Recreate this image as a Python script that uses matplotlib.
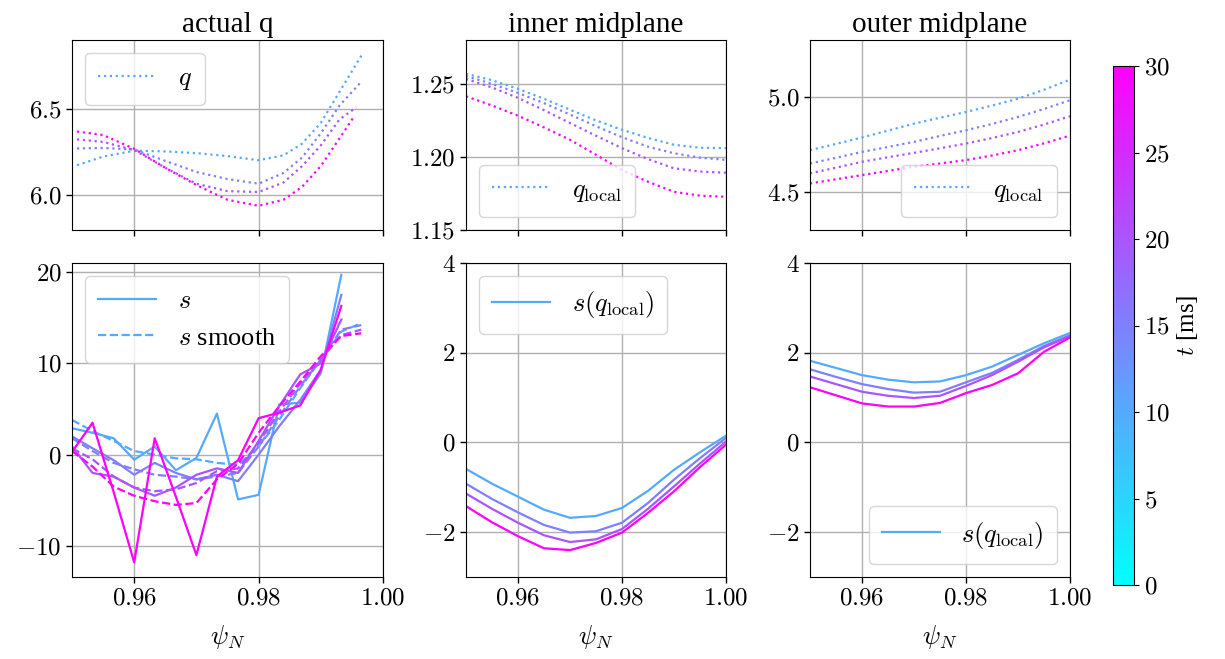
import numpy as np
import matplotlib
matplotlib.use("Agg")
import matplotlib.pyplot as plt
from matplotlib.ticker import StrMethodFormatter

plt.rcParams['font.family'] = 'serif'
plt.rcParams['font.serif'] = ['Liberation Serif', 'DejaVu Serif']
plt.rcParams['mathtext.fontset'] = 'cm'
plt.rcParams['font.size'] = 17

# times of the four profiles [ms]
times = [10, 15, 20, 30]

# actual q: each profile on its own psi grid
psi_q = [
    [0.9508, 0.955, 0.96, 0.965, 0.97, 0.975, 0.98, 0.984, 0.987, 0.990, 0.993, 0.9967],
    [0.9508, 0.955, 0.96, 0.965, 0.97, 0.975, 0.98, 0.984, 0.987, 0.990, 0.993, 0.9963],
    [0.9508, 0.955, 0.96, 0.965, 0.97, 0.975, 0.98, 0.984, 0.987, 0.990, 0.993, 0.9957],
    [0.9508, 0.955, 0.96, 0.965, 0.97, 0.975, 0.98, 0.984, 0.987, 0.990, 0.993, 0.9954],
]
q_actual = [
    [6.175, 6.225, 6.259, 6.255, 6.245, 6.228, 6.204, 6.232, 6.30, 6.42, 6.60, 6.82],
    [6.272, 6.275, 6.266, 6.200, 6.136, 6.095, 6.068, 6.130, 6.22, 6.36, 6.52, 6.65],
    [6.325, 6.310, 6.263, 6.160, 6.068, 6.025, 6.020, 6.075, 6.17, 6.29, 6.44, 6.51],
    [6.370, 6.350, 6.270, 6.160, 6.060, 5.975, 5.940, 5.975, 6.05, 6.17, 6.33, 6.46],
]

# magnetic shear from the discrete q
psi_s = [0.95, 0.9533, 0.9567, 0.96, 0.9633, 0.9667, 0.97, 0.9733, 0.9767,
         0.98, 0.9833, 0.9867, 0.99, 0.9933]
s_raw = [
    [2.9, 2.4, 1.8, -0.55, 0.9, -1.7, -0.36, 4.5, -4.9, -4.4, 5.5, 5.7, 8.9, 19.7],
    [2.0, 0.7, -0.6, -2.2, -0.9, -2.0, -2.7, -2.2, -2.9, 0.0, 3.1, 6.0, 9.3, 17.5],
    [0.9, -2.0, -2.4, -3.6, -4.5, -3.6, -2.2, -1.5, -2.0, 1.5, 5.3, 8.8, 10.0, 14.8],
    [0.3, 3.5, -4.1, -11.8, 1.8, -4.6, -11.0, -2.4, -0.6, 4.0, 4.6, 5.4, 9.3, 16.3],
]
psi_smooth = [0.95, 0.9533, 0.9567, 0.96, 0.9633, 0.9667, 0.97, 0.9733, 0.9767,
              0.98, 0.9833, 0.9867, 0.99, 0.9933, 0.9965]
s_smooth = [
    [3.8, 2.6, 1.5, 0.4, 0.0, -0.4, -0.5, -0.9, -1.1, 0.9, 3.8, 7.3, 10.4, 13.5, 14.4],
    [1.8, 0.4, -0.9, -1.6, -2.2, -2.4, -2.7, -2.4, -2.0, 0.9, 4.2, 7.5, 10.4, 13.7, 14.2],
    [0.7, -0.5, -2.4, -3.6, -4.0, -3.8, -3.1, -1.8, -1.5, 1.3, 4.7, 7.8, 10.4, 13.1, 13.7],
    [0.4, -1.3, -3.5, -4.5, -5.1, -5.5, -5.3, -2.7, -1.0, 2.4, 5.3, 8.0, 10.8, 13.0, 13.3],
]

# local q and shear at the midplanes
psi_loc = [0.95, 0.955, 0.96, 0.965, 0.97, 0.975, 0.98, 0.985, 0.99, 0.995, 1.0]
q_inner = [
    [1.2569, 1.2525, 1.2466, 1.2398, 1.2323, 1.2250, 1.2186, 1.2130, 1.2083, 1.2063, 1.2060],
    [1.2553, 1.2500, 1.2438, 1.2368, 1.2290, 1.2210, 1.2135, 1.2070, 1.2025, 1.1995, 1.1980],
    [1.2534, 1.2475, 1.2404, 1.2320, 1.2232, 1.2145, 1.2060, 1.1985, 1.1922, 1.1900, 1.1892],
    [1.2415, 1.2352, 1.2282, 1.2202, 1.2117, 1.2015, 1.1910, 1.1830, 1.1761, 1.1735, 1.1727],
]
s_inner = [
    [-0.59, -0.92, -1.21, -1.50, -1.68, -1.64, -1.46, -1.08, -0.61, -0.22, 0.15],
    [-0.92, -1.26, -1.56, -1.84, -2.01, -1.98, -1.79, -1.35, -0.83, -0.35, 0.10],
    [-1.14, -1.48, -1.79, -2.07, -2.22, -2.16, -1.93, -1.48, -0.98, -0.47, 0.02],
    [-1.42, -1.78, -2.09, -2.36, -2.40, -2.24, -2.01, -1.57, -1.09, -0.55, -0.05],
]
q_outer = [
    [4.720, 4.753, 4.787, 4.823, 4.860, 4.891, 4.921, 4.955, 4.991, 5.038, 5.091],
    [4.650, 4.680, 4.711, 4.737, 4.764, 4.795, 4.825, 4.858, 4.895, 4.937, 4.983],
    [4.598, 4.628, 4.659, 4.683, 4.706, 4.730, 4.755, 4.784, 4.816, 4.855, 4.899],
    [4.545, 4.567, 4.589, 4.611, 4.633, 4.650, 4.668, 4.692, 4.720, 4.756, 4.797],
]
s_outer = [
    [1.82, 1.66, 1.50, 1.40, 1.34, 1.36, 1.50, 1.69, 1.95, 2.21, 2.44],
    [1.63, 1.46, 1.30, 1.19, 1.11, 1.13, 1.34, 1.55, 1.84, 2.15, 2.39],
    [1.47, 1.30, 1.13, 1.04, 0.99, 1.04, 1.26, 1.50, 1.80, 2.12, 2.37],
    [1.23, 1.05, 0.87, 0.80, 0.80, 0.88, 1.10, 1.28, 1.54, 2.02, 2.34],
]

cmap = plt.get_cmap('cool')
norm = plt.Normalize(0, 30)

fig = plt.figure(figsize=(12.25, 6.59), dpi=100)
W, H = 1225, 659
def box(x0, x1, y0, y1):
    return [x0 / W, 1 - y1 / H, (x1 - x0) / W, (y1 - y0) / H]

cols = [(72, 383), (466, 726), (810, 1070)]
ax_top = [fig.add_axes(box(c[0], c[1], 40, 230)) for c in cols]
ax_bot = [fig.add_axes(box(c[0], c[1], 263, 577)) for c in cols]

lw = 1.6
for i, t in enumerate(times):
    c = cmap(norm(t))
    first = i == 0
    ax_top[0].plot(psi_q[i], q_actual[i], ':', color=c, lw=lw, label='$q$' if first else None)
    ax_bot[0].plot(psi_s, s_raw[i], '-', color=c, lw=lw, label='$s$' if first else None)
    ax_bot[0].plot(psi_smooth, s_smooth[i], '--', color=c, lw=lw,
                   label='$s$ smooth' if first else None)
    ax_top[1].plot(psi_loc, q_inner[i], ':', color=c, lw=lw,
                   label=r'$q_\mathrm{local}$' if first else None)
    ax_bot[1].plot(psi_loc, s_inner[i], '-', color=c, lw=lw,
                   label=r'$s(q_\mathrm{local})$' if first else None)
    ax_top[2].plot(psi_loc, q_outer[i], ':', color=c, lw=lw,
                   label=r'$q_\mathrm{local}$' if first else None)
    ax_bot[2].plot(psi_loc, s_outer[i], '-', color=c, lw=lw,
                   label=r'$s(q_\mathrm{local})$' if first else None)

titles = ['actual q', 'inner midplane', 'outer midplane']
for j in range(3):
    for ax in (ax_top[j], ax_bot[j]):
        ax.set_xlim(0.95, 1.0)
        ax.set_xticks([0.96, 0.98, 1.00])
        ax.grid(True, color='#b0b0b0', lw=1.0)
        ax.tick_params(direction='out', length=4, width=1, labelsize=18)
    ax_top[j].set_title(titles[j], fontsize=21)
    ax_top[j].set_xticklabels([])
    ax_bot[j].xaxis.set_major_formatter(StrMethodFormatter('${x:.2f}$'))
    ax_bot[j].set_xlabel(r'$\psi_N$', fontsize=19, labelpad=10)

ax_top[0].set_ylim(5.8, 6.9)
ax_top[0].set_yticks([6.0, 6.5])
ax_top[0].yaxis.set_major_formatter(StrMethodFormatter('${x:.1f}$'))
ax_bot[0].set_ylim(-13.4, 21)
ax_bot[0].set_yticks([-10, 0, 10, 20])
ax_bot[0].yaxis.set_major_formatter(StrMethodFormatter('${x:.0f}$'))
ax_top[1].set_ylim(1.15, 1.28)
ax_top[1].set_yticks([1.15, 1.20, 1.25])
ax_top[1].yaxis.set_major_formatter(StrMethodFormatter('${x:.2f}$'))
ax_top[2].set_ylim(4.3, 5.3)
ax_top[2].set_yticks([4.5, 5.0])
ax_top[2].yaxis.set_major_formatter(StrMethodFormatter('${x:.1f}$'))
for ax in ax_bot[1:]:
    ax.set_ylim(-3, 4)
    ax.set_yticks([-2, 0, 2, 4])
    ax.yaxis.set_major_formatter(StrMethodFormatter('${x:.0f}$'))

leg_kw = dict(fontsize=19, handlelength=2.2, borderpad=0.5)
ax_top[0].legend(loc='upper left', **leg_kw)
ax_bot[0].legend(loc='upper left', **leg_kw)
ax_top[1].legend(loc='lower left', **leg_kw)
ax_bot[1].legend(loc='upper left', **leg_kw)
ax_top[2].legend(loc='lower right', **leg_kw)
ax_bot[2].legend(loc='lower right', **leg_kw)

cax = fig.add_axes(box(1113, 1134, 66, 585))
sm = plt.cm.ScalarMappable(norm=norm, cmap=cmap)
cb = fig.colorbar(sm, cax=cax, ticks=[0, 5, 10, 15, 20, 25, 30])
cb.ax.tick_params(labelsize=18)
cb.ax.yaxis.set_major_formatter(StrMethodFormatter('${x:.0f}$'))
cb.set_label('$t$ [ms]', fontsize=18)

fig.savefig('out.png', dpi=100)
